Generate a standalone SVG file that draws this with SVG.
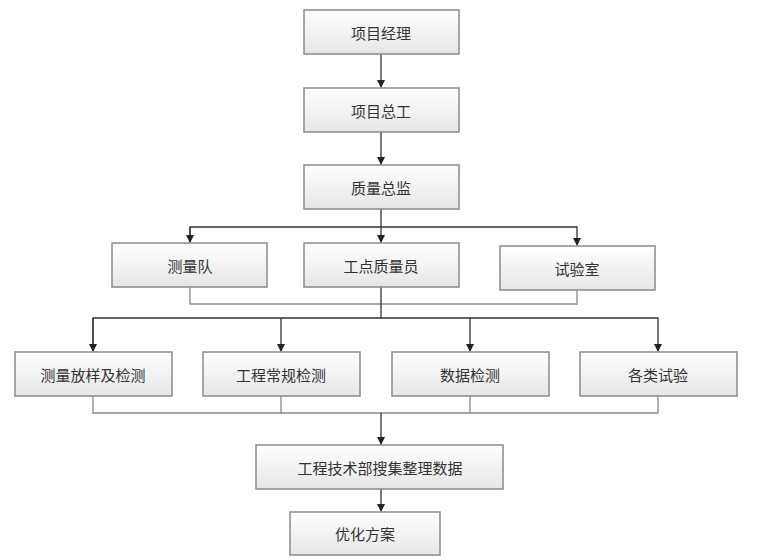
<svg xmlns="http://www.w3.org/2000/svg" width="764" height="560" viewBox="0 0 764 560">
<defs>
<linearGradient id="g" x1="0" y1="0" x2="0" y2="1"><stop offset="0" stop-color="#ffffff"/><stop offset="1" stop-color="#e6e6e6"/></linearGradient>
<marker id="a" markerWidth="8" markerHeight="8" refX="7" refY="4" orient="auto" markerUnits="userSpaceOnUse"><path d="M0,0 L8,4 L0,8 Z" fill="#222"/></marker>
</defs>
<style>
.b{fill:url(#g);stroke:#8a8a8a;stroke-width:1.5}
.t{font-family:"Noto Sans CJK SC",sans-serif;font-size:15px;fill:#333;text-anchor:middle;dominant-baseline:central}
.c{fill:none;stroke:#333;stroke-width:1.3}
.m{fill:none;stroke:#888;stroke-width:1.3}
</style>
<rect width="764" height="560" fill="#fff"/>
<g id="connectors">
<path class="c" d="M381,54 V87" marker-end="url(#a)"/>
<path class="c" d="M381,132 V164" marker-end="url(#a)"/>
<path class="c" d="M381,209 V242" marker-end="url(#a)"/>
<path class="c" d="M190,242 V227 H577 V245" marker-end="url(#a)"/>
<path class="c" d="M190,227 V242" marker-end="url(#a)"/>
<path class="m" d="M190,287 V304 H577 V290"/>
<path class="c" d="M381,287 V318"/>
<path class="c" d="M93,351 V318 H658 V351" marker-end="url(#a)"/>
<path class="c" d="M93,318 V351" marker-end="url(#a)"/>
<path class="c" d="M281,318 V351" marker-end="url(#a)"/>
<path class="c" d="M470,318 V351" marker-end="url(#a)"/>
<path class="m" d="M93,396 V413 H658 V396 M281,396 V413 M470,396 V413"/>
<path class="c" d="M381,413 V444" marker-end="url(#a)"/>
<path class="c" d="M381,489 V511" marker-end="url(#a)"/>
</g>
<g id="n1"><rect class="b" x="304" y="10" width="155" height="44"/><text class="t" x="381" y="32">项目经理</text></g>
<g id="n2"><rect class="b" x="304" y="88" width="155" height="44"/><text class="t" x="381" y="110">项目总工</text></g>
<g id="n3"><rect class="b" x="304" y="165" width="155" height="44"/><text class="t" x="381" y="187">质量总监</text></g>
<g id="n4"><rect class="b" x="112" y="243" width="155" height="44"/><text class="t" x="190" y="265">测量队</text></g>
<g id="n5"><rect class="b" x="304" y="243" width="155" height="44"/><text class="t" x="381" y="265">工点质量员</text></g>
<g id="n6"><rect class="b" x="500" y="246" width="155" height="44"/><text class="t" x="577" y="268">试验室</text></g>
<g id="n7"><rect class="b" x="15" y="352" width="157" height="44"/><text class="t" x="93" y="374">测量放样及检测</text></g>
<g id="n8"><rect class="b" x="203" y="352" width="157" height="44"/><text class="t" x="281" y="374">工程常规检测</text></g>
<g id="n9"><rect class="b" x="392" y="352" width="157" height="44"/><text class="t" x="470" y="374">数据检测</text></g>
<g id="n10"><rect class="b" x="580" y="352" width="157" height="44"/><text class="t" x="658" y="374">各类试验</text></g>
<g id="n11"><rect class="b" x="256" y="445" width="247" height="44"/><text class="t" x="380" y="467">工程技术部搜集整理数据</text></g>
<g id="n12"><rect class="b" x="290" y="512" width="150" height="43"/><text class="t" x="365" y="533">优化方案</text></g>
</svg>
